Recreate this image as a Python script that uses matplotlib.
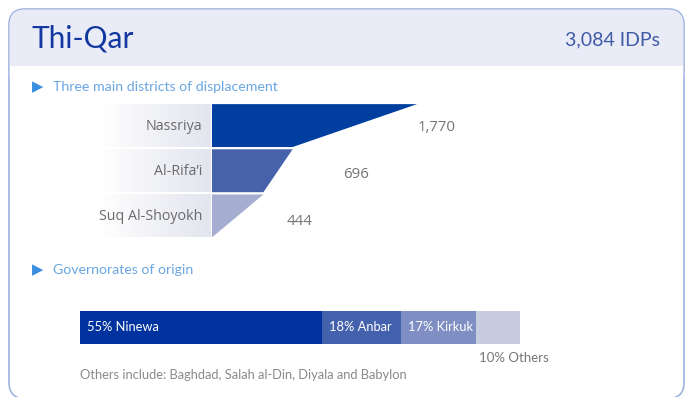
import numpy as np
import matplotlib
matplotlib.use('Agg')
import matplotlib.pyplot as plt
from matplotlib.patches import FancyBboxPatch, Rectangle
from matplotlib.colors import LinearSegmentedColormap

# district funnel
districts = ['Nassriya', 'Al-Rifa’i', 'Suq Al-Shoyokh']
district_idps = [1770, 696, 444]
district_colors = ['#003fa0', '#4562ab', '#a5aed0']

# governorates of origin (percent)
origins = ['Ninewa', 'Anbar', 'Kirkuk', 'Others']
origin_pct = [55, 18, 17, 10]
origin_colors = ['#0033a0', '#4361ad', '#7f8fc3', '#c7cce0']

total_idps = 3084
W, H = 694, 397


def px_axes(fig, x0, y0, x1, y1):
    # axes placed by pixel box (y measured from top)
    return fig.add_axes([x0 / W, 1 - y1 / H, (x1 - x0) / W, (y1 - y0) / H])


fig = plt.figure(figsize=(W / 100, H / 100), dpi=100)
bg = fig.add_axes([0, 0, 1, 1])
bg.set_xlim(0, W)
bg.set_ylim(H, 0)
bg.axis('off')

# card with header band
card = FancyBboxPatch((9, 9), 675, 389.5, boxstyle='round,pad=0,rounding_size=16',
                      fc='white', ec='#9fb2e0', lw=1.2)
bg.add_patch(card)
header = FancyBboxPatch((9.6, 9.6), 673.8, 80, boxstyle='round,pad=0,rounding_size=15',
                        fc='#e9ecf6', ec='none')
bg.add_patch(header)
bg.add_patch(Rectangle((9.6, 66), 673.8, 30, fc='white', ec='none'))

bg.text(32, 38, 'Thi-Qar', fontsize=21.5, color='#1238a0', family='Lato',
        va='center', ha='left')
bg.text(660, 40, f'{total_idps:,} IDPs', fontsize=14, color='#3f5aa6',
        family='Lato', va='center', ha='right')

# section headings
for y, title in [(87, 'Three main districts of displacement'),
                 (270, 'Governorates of origin')]:
    bg.text(32, y, '▶', fontsize=10.5, color='#3b8de0', family='DejaVu Sans',
            va='center', ha='left')
    bg.text(53, y, title, fontsize=10.2, color='#6aa7e2', family='Lato',
            va='center', ha='left')

# funnel: label column with soft gradient, then shaped segments
fun = px_axes(fig, 212, 103, 417, 238.5)
fun.set_xlim(0, district_idps[0])
fun.set_ylim(len(districts), 0)
fun.axis('off')

grad = np.linspace(0, 1, 256)[None, :]
lbl_cmap = LinearSegmentedColormap.from_list('lbl', ['#ffffff', '#e3e5ee'])
gap = 0.025
label_x = [225, 144, 88]
widths = district_idps + [0]
for i, name in enumerate(districts):
    top, bot = i + gap, i + 1 - gap
    ytop = 103 + top * 45
    ybot = 103 + bot * 45
    bg.imshow(grad, extent=(100, 211, ybot, ytop), aspect='auto',
              cmap=lbl_cmap, zorder=1)
    bg.text(202, (ytop + ybot) / 2 + 1, name, fontsize=10.3, color='#6b6b6b',
            family='Open Sans', ha='right', va='center', zorder=2)
    fun.fill([0, widths[i], widths[i + 1], 0], [top, top, bot, bot],
             color=district_colors[i], lw=0)
    bg.text(212 + label_x[i], (ytop + ybot) / 2 + 2 + i * 2,
            f'{district_idps[i]:,}', fontsize=10.8, color='#757575',
            family='Open Sans', ha='center', va='center')
bg.set_xlim(0, W)
bg.set_ylim(H, 0)

# stacked bar of origins
sb = px_axes(fig, 80, 311, 520, 343.5)
sb.set_xlim(0, 100)
sb.set_ylim(-0.5, 0.5)
sb.axis('off')
left = np.concatenate([[0], np.cumsum(origin_pct)[:-1]])
sb.barh(0, origin_pct, left=left, height=1, color=origin_colors, lw=0)
for i, (name, pct) in enumerate(zip(origins, origin_pct)):
    label = f'{pct}% {name}'
    if name == 'Others':
        sb.text(left[i] + pct + 6.6, -0.95, label, fontsize=9.5, color='#777777',
                family='Lato', ha='right', va='center', clip_on=False)
    else:
        sb.text(left[i] + 1.6, 0, label, fontsize=9.3, color='white',
                family='Lato', ha='left', va='center')

bg.text(80, 375, 'Others include: Baghdad, Salah al-Din, Diyala and Babylon',
        fontsize=9.3, color='#8a8a8a', family='Lato', ha='left', va='center')

fig.savefig('out.png', dpi=100)
